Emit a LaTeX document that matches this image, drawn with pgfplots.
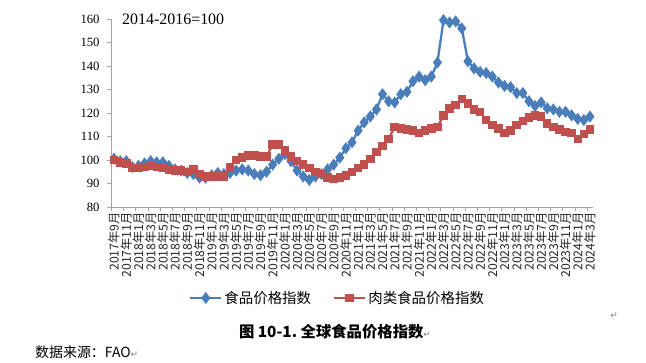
\documentclass[border=0pt]{standalone}
\usepackage{pgfplots}
\pgfplotsset{compat=1.18}
\usepackage{fontspec}
\setmainfont{Liberation Serif}
\newfontfamily\cjk{Noto Sans CJK SC}
\newfontfamily\djv{DejaVu Sans}
\definecolor{fblue}{HTML}{4A7EBB}
\definecolor{fred}{HTML}{C0504D}
\definecolor{axgray}{HTML}{A6A6A6}
\begin{document}
\begin{tikzpicture}
\path[use as bounding box] (0bp,0bp) rectangle (646bp,363bp);
\begin{axis}[
  at={(111bp,156bp)}, anchor=south west, scale only axis,
  width=482bp, height=188bp,
  xmin=-0.5, xmax=78.5, ymin=80, ymax=160,
  axis lines=left, axis line style={draw=axgray,-},
  tick align=outside, major tick length=4bp,
  ytick={80,90,...,160},
  ytick style={draw=axgray},
  /pgf/number format/assume math mode=true,
  yticklabel style={font=\fontsize{12.7}{14}\selectfont, xshift=-4bp},
  xtick={0,2,...,78},
  xtick style={draw=none},
  xticklabels={2017年9月,2017年11月,2018年1月,2018年3月,2018年5月,2018年7月,2018年9月,2018年11月,2019年1月,2019年3月,2019年5月,2019年7月,2019年9月,2019年11月,2020年1月,2020年3月,2020年5月,2020年7月,2020年9月,2020年11月,2021年1月,2021年3月,2021年5月,2021年7月,2021年9月,2021年11月,2022年1月,2022年3月,2022年5月,2022年7月,2022年9月,2022年11月,2023年1月,2023年3月,2023年5月,2023年7月,2023年9月,2023年11月,2024年1月,2024年3月},
  xticklabel style={font=\cjk\fontsize{12.3}{13}\selectfont, rotate=90, anchor=east, inner sep=1bp, color=black!85},
  extra x ticks={-0.5,1.5,...,77.5},
  extra x tick labels={},
  extra x tick style={xtick style={draw=axgray}},
  legend style={at={(0.47,-0.484)}, anchor=center, draw=none, fill=none,
    legend columns=2, font=\cjk\fontsize{14.5}{16}\selectfont,
    /tikz/every even column/.append style={column sep=20bp}},
  legend cell align=left,
  legend image code/.code={\draw[mark repeat=2,mark phase=2,#1] plot coordinates {(0bp,0bp) (15.5bp,0bp) (31bp,0bp)};},
]
\addplot[color=fblue, line width=2.3bp, mark=diamond*, mark size=4.2bp, mark options={solid}] coordinates {
(0,100.5)(1,99.5)(2,99.5)(3,97)(4,97.5)(5,98.5)(6,99.5)(7,99)(8,99)(9,97.5)
(10,96)(11,95.5)(12,94.5)(13,94)(14,92.5)(15,92.5)(16,93.5)(17,94.5)(18,94)(19,94.5)
(20,95.5)(21,96)(22,95.5)(23,94)(24,93.5)(25,95)(26,98)(27,100.5)(28,102.5)(29,99.5)
(30,95.5)(31,93)(32,91.5)(33,93)(34,94)(35,96)(36,98)(37,101)(38,105)(39,107.5)
(40,112.5)(41,116)(42,118.5)(43,121.5)(44,128)(45,125)(46,124.5)(47,128)(48,129)(49,133.5)
(50,135.5)(51,134)(52,135.5)(53,141.5)(54,159.5)(55,158.5)(56,159)(57,156)(58,142)(59,139)
(60,137.5)(61,137)(62,135.5)(63,133)(64,131.5)(65,131)(66,128.5)(67,128.5)(68,125)(69,123)
(70,124.5)(71,122)(72,121.5)(73,120.5)(74,120.5)(75,119)(76,117.5)(77,117)(78,118.5)
};
\addlegendentry{食品价格指数}
\addplot[color=fred, line width=2.3bp, mark=square*, mark size=3.1bp, mark options={solid}] coordinates {
(0,100)(1,99)(2,98.5)(3,96.5)(4,96.5)(5,97)(6,97.5)(7,97)(8,96.5)(9,96)
(10,95.5)(11,95.5)(12,95)(13,96)(14,94)(15,93)(16,93)(17,93)(18,93)(19,97)
(20,100)(21,101)(22,102)(23,102)(24,101.5)(25,101.5)(26,106.5)(27,106.5)(28,104)(29,101.5)
(30,99.5)(31,98)(32,96.5)(33,95)(34,94)(35,92.5)(36,92)(37,92.5)(38,93.5)(39,95)
(40,96.5)(41,98)(42,100.5)(43,103.5)(44,106)(45,109)(46,114)(47,113.5)(48,113)(49,112.5)
(50,111.5)(51,112.5)(52,113.5)(53,114)(54,119)(55,122)(56,123.5)(57,126)(58,124)(59,121.5)
(60,120.5)(61,117)(62,115)(63,113.5)(64,111.5)(65,112.5)(66,115)(67,116.5)(68,118)(69,119)
(70,118.5)(71,115.5)(72,114)(73,113)(74,112)(75,111.5)(76,109)(77,111)(78,113)
};
\addlegendentry{肉类食品价格指数}
\end{axis}
\node[anchor=west, font=\fontsize{16}{18}\selectfont, inner sep=0pt] at (122bp,344bp) {2014-2016=100};
\node[anchor=center, font=\cjk\bfseries\fontsize{15.4}{17}\selectfont, inner sep=0pt] at (335bp,31bp) {图 10-1.\ 全球食品价格指数{\djv\mdseries\fontsize{9}{10}\selectfont\color{gray}↵}};
\node[anchor=west, font=\cjk\fontsize{14}{16}\selectfont, inner sep=0pt] at (35bp,11bp) {数据来源：FAO{\djv\fontsize{9}{10}\selectfont\color{gray}↵}};
\node[font=\djv\fontsize{9}{10}\selectfont, text=gray, inner sep=0pt] at (614bp,47bp) {↵};
\end{tikzpicture}
\end{document}
